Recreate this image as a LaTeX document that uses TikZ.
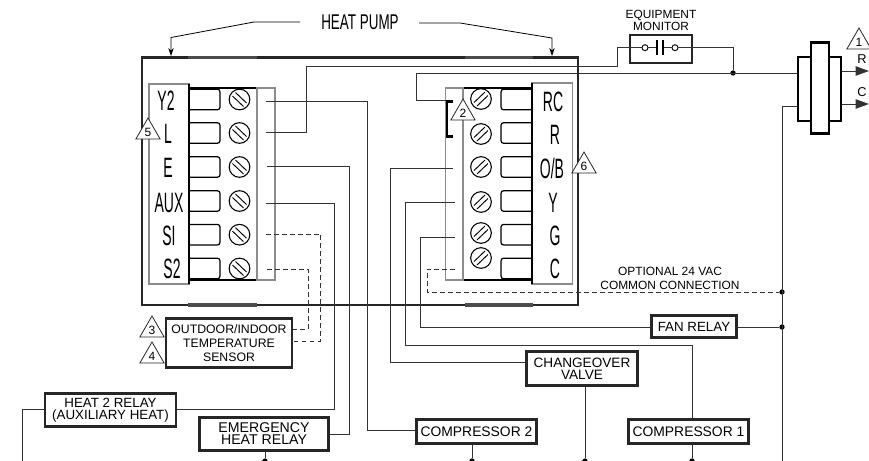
\documentclass[tikz,border=0pt]{standalone}
\usepackage{fontspec}
\setmainfont{Liberation Sans}
\usetikzlibrary{arrows.meta,calc,shapes.geometric}

\newcommand{\narrowtext}[1]{\scalebox{0.5}[1]{\fontsize{21}{21}\selectfont #1}}
\tikzset{
	wire/.style={draw=black!80,line width=0.75pt},
	optwire/.style={wire,dash pattern=on 3.5pt off 2.5pt},
	strip/.style={draw=black!45,line width=0.9pt},
	relay/.style={draw=black!85,line width=1.8pt,fill=white,inner sep=0pt,align=center,font=\fontsize{10.2}{9}\selectfont},
	tab/.style={draw=black,line width=0.9pt,rounded corners=2pt},
	screw/.style={circle,draw=black,line width=0.8pt,minimum size=15.5pt,inner sep=0pt},
	note/.style={regular polygon,regular polygon sides=3,draw=black!85,line width=0.6pt,fill=white,inner sep=0pt,minimum size=21pt,font=\fontsize{9}{9}\selectfont},
	joint/.style={circle,fill=black,inner sep=0pt,minimum size=4pt},
	termlabel/.style={inner sep=0pt},
}

\begin{document}
\begin{tikzpicture}[x=0.75pt,y=-0.75pt]
		\useasboundingbox (0,0) rectangle (869,461);
		\begin{scope}
		\clip (0,0) rectangle (869,461);
		% outer case
		\draw[draw=black!85,line width=1.9pt] (142,57.5) rectangle (578,305);
		\foreach \xa/\xb in {188/257,465/533} {
			\draw[line width=2.6pt,draw=black!70] (\xa,57.5) -- (\xb,57.5);
			\draw[line width=2.6pt,draw=black!70] (\xa,305) -- (\xb,305);
		}
		% left terminal block
		\draw[strip] (149,84) rectangle (189,284);
		\draw[draw=black,line width=1.1pt] (189,88) -- (257,88);
		\draw[draw=black,line width=1.1pt] (189,280) -- (257,280);
		\draw[strip] (257,88) rectangle (275,280);
		\draw[draw=black,line width=1pt] (189,84) -- (189,284);
		\foreach \yc/\nm in {99.5/ly,133/ll,167/le,201/la,234.7/ls,268.5/lt} {
			\draw[tab] (189,\yc-10.3) -- (220,\yc-10.3) -- (220,\yc+10.3) -- (189,\yc+10.3);
			\node[screw] (\nm) at (239.5,\yc) {};
			\draw[line width=0.7pt] ($(\nm)+(-7,-3.5)$) -- ($(\nm)+(4,7)$);
			\draw[line width=0.7pt] ($(\nm)+(-4,-7)$) -- ($(\nm)+(7,3.5)$);
		}
		\node[termlabel] (ty) at (166,101) {\narrowtext{Y2}};
		\node[termlabel] (tl) at (168,134) {\narrowtext{L}};
		\node[termlabel] (te) at (168,168) {\narrowtext{E}};
		\node[termlabel] (tx) at (169,203) {\narrowtext{AUX}};
		\node[termlabel] (ts) at (169,236) {\narrowtext{SI}};
		\node[termlabel] (tt) at (172,269) {\narrowtext{S2}};
		% right terminal block
		\draw[strip] (532,83) rectangle (572.5,284);
		\draw[draw=black,line width=1.1pt] (463,88) -- (532,88);
		\draw[draw=black,line width=1.1pt] (463,280) -- (532,280);
		\draw[strip] (445.5,88) rectangle (463,280);
		\draw[draw=black,line width=1pt] (532,83) -- (532,284);
		\foreach \yc in {99.5,133,167,201,234.7,268.5} {
			\draw[tab] (532,\yc-10.3) -- (501,\yc-10.3) -- (501,\yc+10.3) -- (532,\yc+10.3);
		}
		\foreach \yc/\nm in {99/rr,134/rs,167/ro,202/rv,233/rg,258/rc} {
			\node[screw] (\nm) at (481,\yc) {};
			\draw[line width=0.7pt] ($(\nm)+(7,-3.5)$) -- ($(\nm)+(-4,7)$);
			\draw[line width=0.7pt] ($(\nm)+(4,-7)$) -- ($(\nm)+(-7,3.5)$);
		}
		\node[termlabel] (tr) at (553,102) {\narrowtext{RC}};
		\node[termlabel] (ts2) at (555,135) {\narrowtext{R}};
		\node[termlabel] (tb) at (552,168) {\narrowtext{O/B}};
		\node[termlabel] (tv) at (553,203) {\narrowtext{Y}};
		\node[termlabel] (tg) at (555,236) {\narrowtext{G}};
		\node[termlabel] (tc) at (555,269) {\narrowtext{C}};
		\draw[line width=2pt,draw=black] (453,101.5) -- (447,101.5) -- (447,136.5) -- (453,136.5);
		% relays
		\node[relay,minimum width=94.5pt,minimum height=37pt,font=\fontsize{9.2}{10.5}\selectfont] (sensor) at (229,343) {OUTDOOR/INDOOR\\TEMPERATURE\\SENSOR};
		\node[relay,font=\fontsize{10}{9}\selectfont,minimum width=98pt,minimum height=25pt] (heat2) at (110.5,410) {HEAT 2 RELAY\\(AUXILIARY HEAT)};
		\node[relay,font=\fontsize{10.6}{9}\selectfont,minimum width=97pt,minimum height=25pt] (emerg) at (264,434) {EMERGENCY\\HEAT RELAY};
		\node[relay,minimum width=90pt,minimum height=18pt,font=\fontsize{10.4}{9}\selectfont] (comp2) at (476.5,431.5) {COMPRESSOR 2};
		\node[relay,minimum width=83.5pt,minimum height=25.5pt] (valve) at (582,368.5) {CHANGEOVER\\VALVE};
		\node[relay,minimum width=90pt,minimum height=18pt,font=\fontsize{10.4}{9}\selectfont] (comp1) at (688.5,431.5) {COMPRESSOR 1};
		\node[relay,minimum width=64pt,minimum height=16.5pt,font=\fontsize{10}{9}\selectfont] (fan) at (694,326.5) {FAN RELAY};
		\node[relay,line width=1.6pt,minimum width=46pt,minimum height=21pt] (monitor) at (661,49) {};
		% transformer
		\node[draw=black,line width=1.8pt,minimum width=32pt,minimum height=48pt,inner sep=0pt] (xfmr) at (819.5,89) {};
		\node[draw=black,line width=1.8pt,fill=white,minimum width=13.5pt,minimum height=68pt,inner sep=0pt] (core) at (820,88) {};
		% free ends of the wires
		\coordinate (ymid) at (266,101);
		\coordinate (lmid) at (266,132.7);
		\coordinate (emid) at (267,166.7);
		\coordinate (amid) at (266,203);
		\coordinate (smid) at (266,234);
		\coordinate (tmid) at (267,269);
		\coordinate (rmid) at (446,100.7);
		\coordinate (omid) at (453,168);
		\coordinate (vmid) at (455,202);
		\coordinate (gmid) at (455,237);
		\coordinate (cmid) at (455,269);
		\coordinate (bus) at (782,106);
		\coordinate (tapm) at (733,73);
		\coordinate (low) at (22.7,461);
		\node[joint] (jm) at (tapm) {};
		\node[joint] (jo) at (782,292) {};
		\node[joint] (jf) at (782,327) {};
		\node[joint] (je) at (265,461) {};
		\node[joint] (j2) at (472,461) {};
		\node[joint] (jv) at (585,461) {};
		\node[joint] (j1) at (692,461) {};
		% wires
		\draw[wire] (ymid) -| (367,430) -- (comp2.west |- 0,430);
		\draw[wire] (lmid) -| (306,66) -- (617,66) |- (645,47.7);
		\draw[wire] (emid) -| (349,434) -- (emerg.east |- 0,434);
		\draw[wire] (amid) -| (334,409) -- (heat2.east |- 0,409);
		\draw[wire] (heat2.west |- 0,409) -| (low);
		\draw[optwire] (smid) -| (320.7,341) -- (sensor.east |- 0,341);
		\draw[optwire] (tmid) -| (308,329) -- (sensor.east |- 0,329);
		\draw[wire] (rmid) -| (416,73) -- (xfmr.west |- 0,73);
		\draw[wire] (omid) -| (390,362) -- (valve.west |- 0,362);
		\draw[wire] (vmid) -| (405,345) -- (692,345) -- (comp1.north -| 692,0);
		\draw[wire] (gmid) -| (420,327) -- (fan.west |- 0,327);
		\draw[optwire] (cmid) -| (427,292) -- (jo);
		\draw[wire] (fan.east |- 0,327) -- (jf);
		\draw[wire] (xfmr.west |- bus) -- (bus) -- (782,461);
		\draw[wire] (emerg.south -| je) -- (je);
		\draw[wire] (comp2.south -| j2) -- (j2);
		\draw[wire] (valve.south -| jv) -- (jv);
		\draw[wire] (comp1.south -| j1) -- (j1);
		% equipment monitor contact
		\node[circle,draw=black,line width=0.7pt,fill=white,minimum size=4.5pt,inner sep=0pt] (cona) at (645,47.7) {};
		\node[circle,draw=black,line width=0.7pt,fill=white,minimum size=4.5pt,inner sep=0pt] (conb) at (675,47.7) {};
		\draw[wire] (cona) -- (657,47.7);
		\draw[wire] (conb) -- (663,47.7);
		\draw[line width=0.9pt] (657,40) -- (657,55);
		\draw[line width=0.9pt] (663,40) -- (663,55);
		\draw[wire] (conb) -- (733,47.7) -- (jm);
		% secondary outputs
		\draw[wire,-{Triangle[length=10pt,width=7pt]}] (xfmr.east |- 0,71) -- (869,71);
		\draw[wire,-{Triangle[length=10pt,width=7pt]}] (xfmr.east |- 0,104) -- (869,104);
		% keyed notes
		\node[note] (n1) at (859,42) {1};
		\node[note] (n2) at (463,113) {2};
		\node[note] (n3) at (152,330) {3};
		\node[note] (n4) at (152,356) {4};
		\node[note] (n5) at (148,132) {5};
		\node[note] (n6) at (584,166) {6};
		% texts
		\node[inner sep=0pt,font=\fontsize{9.6}{9}\selectfont] (lr) at (862,59) {R};
		\node[inner sep=0pt,font=\fontsize{9.6}{9}\selectfont] (lc) at (862,92) {C};
		\node[inner sep=0pt,align=center,font=\fontsize{8.9}{9}\selectfont] (lmon) at (661,20.5) {EQUIPMENT\\MONITOR};
		\node[inner sep=0pt,align=center,font=\fontsize{8.95}{10.5}\selectfont] (lopt) at (670,278) {OPTIONAL 24 VAC\\COMMON CONNECTION};
		\node[inner sep=0pt] (pump) at (360,22) {\scalebox{0.63}[1]{\fontsize{16}{16}\selectfont HEAT PUMP}};
		\coordinate (pleft) at (300,22);
		\coordinate (pright) at (419,23);
		\draw[line width=0.6pt,-{Stealth[length=6pt,width=4pt]}] (pleft) -- (254,22) -- (171,37.5) -- (171,56);
		\draw[line width=0.6pt,-{Stealth[length=6pt,width=4pt]}] (pright) -- (460,23) -- (552,38) -- (552,56);
		\end{scope}
\end{tikzpicture}
\end{document}
